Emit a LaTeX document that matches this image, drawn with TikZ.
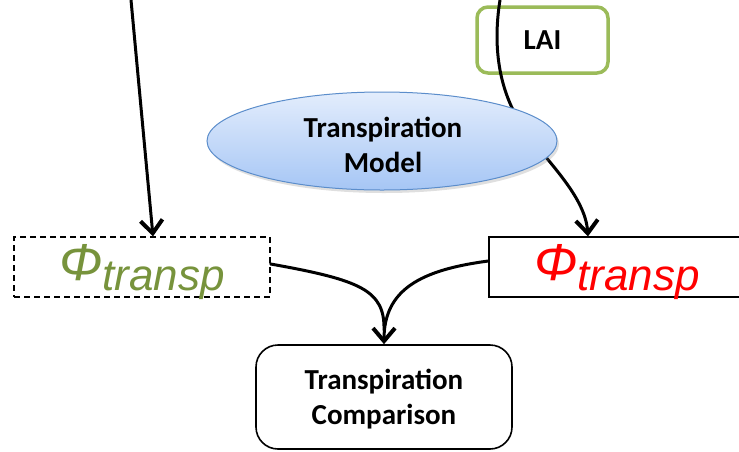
\documentclass[tikz,border=0pt]{standalone}
\usepackage{fontspec}
\setmainfont{Carlito}
\newfontfamily\phifont{Liberation Sans}
\usetikzlibrary{arrows.meta,shapes.geometric,shadows,calc}
\definecolor{phigreen}{HTML}{77933C}
\definecolor{laigreen}{HTML}{9BBB59}
\definecolor{elltop}{HTML}{E3EDFC}
\definecolor{ellbot}{HTML}{A6C6F5}
\definecolor{elldraw}{HTML}{5B8DCB}
\tikzset{
  conn/.style={line width=3pt, line cap=round, -{Straight Barb[length=13pt,width=22pt,line width=4pt]}},
  plain/.style={line width=3pt, line cap=round},
  phibox/.style={minimum width=256pt, minimum height=60pt, line width=1.3pt, inner sep=0pt},
  lbl/.style={font=\bfseries\fontsize{29}{35}\selectfont, align=center},
}
\newcommand{\phitext}{{\phifont\itshape\fontsize{52}{52}\selectfont Φ\raisebox{-10pt}{\fontsize{44}{44}\selectfont transp}}}
\begin{document}
\begin{tikzpicture}[x=1pt,y=-1pt]
\useasboundingbox (0,0) rectangle (739,451);
\fill[white] (0,0) rectangle (739,451);
% nodes
\node[phibox, draw, dashed, dash pattern=on 6pt off 4pt] (lphi) at (142,267) {};
\node[text=phigreen] (lphit) at (142,272) {\phitext};
\node[phibox, draw, fill=white] (rphi) at (617,267) {};
\node[text=red] (rphit) at (617,272) {\phitext};
\node[draw=laigreen, line width=3.5pt, rounded corners=11pt, minimum width=131pt, minimum height=66pt, lbl] (lai) at (542.5,40) {LAI};
\node[draw, line width=1.6pt, rounded corners=22pt, minimum width=256pt, minimum height=104pt] (comp) at (384,397) {};
\node[lbl] (compt) at (384,399) {Transpiration\\Comparison};
\coordinate (ltop) at (131,0);
\coordinate (rtop) at (500,0);
% connectors
\draw[conn] (ltop) -- ([xshift=11pt]lphi.north);
\draw[conn] (rtop) .. controls (492,50) and (500,95) .. (525,130) .. controls (545,160) and (585,195) .. ([xshift=-29pt]rphi.north);
\draw[plain] ([yshift=3pt]lphi.east) .. controls (360,280) and (385,290) .. (384,330);
\draw[conn] ([yshift=6pt]rphi.west) .. controls (420,270) and (384,290) .. (comp.north);
% ellipse on top
\node[ellipse, draw=elldraw, line width=1pt, top color=elltop, bottom color=ellbot, minimum width=350pt, minimum height=98pt, drop shadow={opacity=0.25, shadow xshift=2pt, shadow yshift=-3pt}] (model) at (382,141) {};
\node[lbl] (modelt) at (383,145) {Transpiration\\Model};
\end{tikzpicture}
\end{document}
